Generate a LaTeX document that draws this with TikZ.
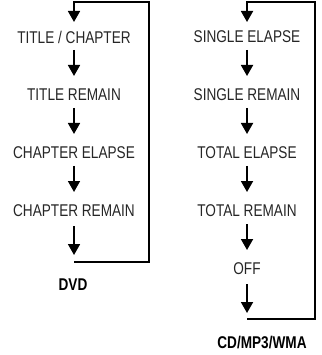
\documentclass[tikz,border=0pt]{standalone}
\usepackage{fontspec}
\setmainfont{Liberation Sans}[FakeStretch=0.8]
\usetikzlibrary{arrows.meta}
\begin{document}
\begin{tikzpicture}[x=1pt,y=-1pt,
  lbl/.style={inner sep=0pt,font=\fontsize{17}{20}\selectfont,text=black!85},
  ttl/.style={inner sep=0pt,font=\fontsize{17}{20}\selectfont\bfseries},
  arr/.style={line width=1.8pt,-{Triangle[width=12pt,length=11pt]}},
  loop/.style={line width=1.6pt,line join=miter}]
\useasboundingbox (0,0) rectangle (321,355);
% left column
\node[lbl] (a1) at (74,37) {TITLE / CHAPTER};
\node[lbl] (a2) at (74,95) {TITLE REMAIN};
\node[lbl] (a3) at (74,153) {CHAPTER ELAPSE};
\node[lbl] (a4) at (74,211) {CHAPTER REMAIN};
\node[ttl] (dvd) at (73,285) {DVD};
\coordinate (aend) at (74,255);
\coordinate (abl) at (74,262);
\coordinate (abr) at (149,262);
\coordinate (atr) at (149,2);
\coordinate (atl) at (73,2);
\draw[arr] ([yshift=-13pt]a1.center) -- ([yshift=19pt]a2.center);
\draw[arr] ([yshift=-13pt]a2.center) -- ([yshift=19pt]a3.center);
\draw[arr] ([yshift=-13pt]a3.center) -- ([yshift=19pt]a4.center);
\draw[arr] ([yshift=-15pt]a4.center) -- (aend);
\draw[loop] (abl) -- (abr) -- (atr) -- (atl);
\draw[arr] (74,2) -- ([yshift=15pt]a1.center);
% right column
\node[lbl] (b1) at (247,37) {SINGLE ELAPSE};
\node[lbl] (b2) at (247,95) {SINGLE REMAIN};
\node[lbl] (b3) at (247,153) {TOTAL ELAPSE};
\node[lbl] (b4) at (247,211) {TOTAL REMAIN};
\node[lbl] (b5) at (247,269) {OFF};
\node[ttl] (cd) at (262,343) {CD/MP3/WMA};
\coordinate (bend) at (247,313);
\coordinate (bbl) at (247,319);
\coordinate (bbr) at (315,319);
\coordinate (btr) at (315,2);
\coordinate (btl) at (246,2);
\draw[arr] ([yshift=-13pt]b1.center) -- ([yshift=19pt]b2.center);
\draw[arr] ([yshift=-13pt]b2.center) -- ([yshift=19pt]b3.center);
\draw[arr] ([yshift=-13pt]b3.center) -- ([yshift=19pt]b4.center);
\draw[arr] ([yshift=-13pt]b4.center) -- ([yshift=19pt]b5.center);
\draw[arr] ([yshift=-15pt]b5.center) -- (bend);
\draw[loop] (bbl) -- (bbr) -- (btr) -- (btl);
\draw[arr] (247,2) -- ([yshift=15pt]b1.center);
\end{tikzpicture}
\end{document}
